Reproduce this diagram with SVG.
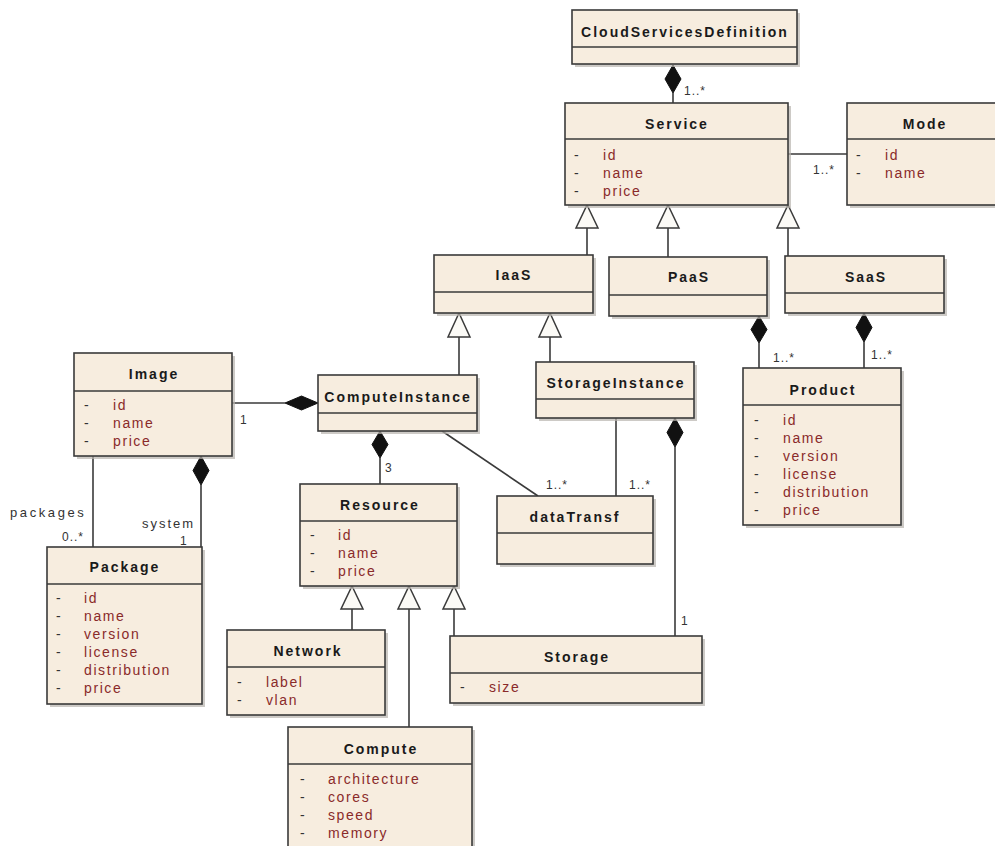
<svg xmlns="http://www.w3.org/2000/svg" width="995" height="846" viewBox="0 0 995 846">
<style>
.sh{fill:#b8b4ae;opacity:0.7}
.bx{fill:#f7eddf;stroke:#3a3a3a;stroke-width:1.6}
.dv{stroke:#3a3a3a;stroke-width:1.4}
.nm{font-family:"Liberation Sans",Arial,sans-serif;font-size:14px;font-weight:bold;fill:#1a1a1a;letter-spacing:2px;text-anchor:middle}
.at{font-family:"Liberation Sans",Arial,sans-serif;font-size:14px;fill:#8a2a2a;letter-spacing:1.6px}
.da{font-family:"Liberation Sans",Arial,sans-serif;font-size:14px;fill:#333}
.ln{stroke:#3a3a3a;stroke-width:1.6;fill:none}
.tri{fill:#fbfaf6;stroke:#3a3a3a;stroke-width:1.5}
.dia{fill:#111;stroke:#111;stroke-width:1}
.lb{font-family:"Liberation Sans",Arial,sans-serif;font-size:12px;fill:#333;letter-spacing:1px}
.rl{font-family:"Liberation Sans",Arial,sans-serif;font-size:13px;fill:#333;letter-spacing:2px}
</style>

<g id="connectors">
  <!-- CSD - Service composition -->
  <line class="ln" x1="673" y1="93" x2="673" y2="103"/>
  <polygon class="dia" points="673,65 681,79 673,93 665,79"/>
  <text class="lb" x="684" y="95">1..*</text>
  <!-- Service - Mode -->
  <line class="ln" x1="788" y1="154" x2="847" y2="154"/>
  <text class="lb" x="813" y="174">1..*</text>
  <!-- Service generalizations -->
  <line class="ln" x1="587" y1="228" x2="587" y2="255"/>
  <polygon class="tri" points="587,205 598,228 576,228"/>
  <line class="ln" x1="668" y1="228" x2="668" y2="257"/>
  <polygon class="tri" points="668,205 679,228 657,228"/>
  <line class="ln" x1="788" y1="228" x2="788" y2="256"/>
  <polygon class="tri" points="788,205 799,228 777,228"/>
  <!-- IaaS generalizations -->
  <line class="ln" x1="459" y1="337" x2="459" y2="375"/>
  <polygon class="tri" points="459,313 470,337 448,337"/>
  <line class="ln" x1="550" y1="337" x2="550" y2="362"/>
  <polygon class="tri" points="550,313 561,337 539,337"/>
  <!-- PaaS - Product -->
  <line class="ln" x1="759" y1="343" x2="759" y2="368"/>
  <polygon class="dia" points="759,316 767,329.5 759,343 751,329.5"/>
  <text class="lb" x="773" y="362">1..*</text>
  <!-- SaaS - Product -->
  <line class="ln" x1="864" y1="342" x2="864" y2="368"/>
  <polygon class="dia" points="864,313 872,327.5 864,342 856,327.5"/>
  <text class="lb" x="871" y="359">1..*</text>
  <!-- Image - ComputeInstance -->
  <line class="ln" x1="232" y1="403" x2="285" y2="403"/>
  <polygon class="dia" points="318,403 301.5,410 285,403 301.5,396"/>
  <text class="lb" x="240" y="424">1</text>
  <!-- ComputeInstance - Resource -->
  <line class="ln" x1="380" y1="458" x2="380" y2="484"/>
  <polygon class="dia" points="380,431 388,444.5 380,458 372,444.5"/>
  <text class="lb" x="385" y="472">3</text>
  <!-- CI - dataTransf -->
  <line class="ln" x1="442" y1="431" x2="538" y2="496"/>
  <text class="lb" x="546" y="489">1..*</text>
  <!-- SI - dataTransf -->
  <line class="ln" x1="616" y1="418" x2="616" y2="496"/>
  <text class="lb" x="629" y="489">1..*</text>
  <!-- SI - Storage -->
  <line class="ln" x1="675" y1="447" x2="675" y2="636"/>
  <polygon class="dia" points="675,418 683,432.5 675,447 667,432.5"/>
  <text class="lb" x="681" y="625">1</text>
  <!-- Image - Package packages -->
  <line class="ln" x1="93" y1="456" x2="93" y2="547"/>
  <text class="rl" x="10" y="517" style="letter-spacing:2.6px">packages</text>
  <text class="lb" x="62" y="541">0..*</text>
  <!-- Image - Package system -->
  <line class="ln" x1="201" y1="485" x2="201" y2="547"/>
  <polygon class="dia" points="201,456 209,470.5 201,485 193,470.5"/>
  <text class="rl" x="142" y="528">system</text>
  <text class="lb" x="180" y="545">1</text>
  <!-- Resource generalizations -->
  <line class="ln" x1="352" y1="609" x2="352" y2="630"/>
  <polygon class="tri" points="352,586 363,609 341,609"/>
  <line class="ln" x1="409" y1="609" x2="409" y2="727"/>
  <polygon class="tri" points="409,586 420,609 398,609"/>
  <line class="ln" x1="454" y1="609" x2="454" y2="636"/>
  <polygon class="tri" points="454,586 465,609 443,609"/>
</g>

<g id="CloudServicesDefinition">
  <rect class="sh" x="575" y="13" width="225" height="54"/>
  <rect class="bx" x="572" y="10" width="225" height="54"/>
  <line class="dv" x1="572" y1="47" x2="797" y2="47"/>
  <text class="nm" x="685" y="37">CloudServicesDefinition</text>
</g>

<g id="Service">
  <rect class="sh" x="568" y="106" width="223" height="102"/>
  <rect class="bx" x="565" y="103" width="223" height="102"/>
  <line class="dv" x1="565" y1="139" x2="788" y2="139"/>
  <text class="nm" x="677" y="129">Service</text>
  <text class="da" x="574" y="160">-</text><text class="at" x="603" y="160">id</text>
  <text class="da" x="574" y="178">-</text><text class="at" x="603" y="178">name</text>
  <text class="da" x="574" y="196">-</text><text class="at" x="603" y="196">price</text>
</g>

<g id="Mode">
  <rect class="sh" x="850" y="106" width="156" height="102"/>
  <rect class="bx" x="847" y="103" width="156" height="102"/>
  <line class="dv" x1="847" y1="139" x2="1003" y2="139"/>
  <text class="nm" x="925" y="129">Mode</text>
  <text class="da" x="856" y="160">-</text><text class="at" x="885" y="160">id</text>
  <text class="da" x="856" y="178">-</text><text class="at" x="885" y="178">name</text>
</g>

<g id="IaaS">
  <rect class="sh" x="437" y="258" width="159" height="58"/>
  <rect class="bx" x="434" y="255" width="159" height="58"/>
  <line class="dv" x1="434" y1="292" x2="593" y2="292"/>
  <text class="nm" x="514" y="280">IaaS</text>
</g>

<g id="PaaS">
  <rect class="sh" x="612" y="260" width="158" height="59"/>
  <rect class="bx" x="609" y="257" width="158" height="59"/>
  <line class="dv" x1="609" y1="295" x2="767" y2="295"/>
  <text class="nm" x="689" y="282">PaaS</text>
</g>

<g id="SaaS">
  <rect class="sh" x="788" y="259" width="159" height="57"/>
  <rect class="bx" x="785" y="256" width="159" height="57"/>
  <line class="dv" x1="785" y1="293" x2="944" y2="293"/>
  <text class="nm" x="866" y="282">SaaS</text>
</g>

<g id="ComputeInstance">
  <rect class="sh" x="321" y="378" width="159" height="56"/>
  <rect class="bx" x="318" y="375" width="159" height="56"/>
  <line class="dv" x1="318" y1="413" x2="477" y2="413"/>
  <text class="nm" x="398" y="402">ComputeInstance</text>
</g>

<g id="StorageInstance">
  <rect class="sh" x="539" y="365" width="158" height="56"/>
  <rect class="bx" x="536" y="362" width="158" height="56"/>
  <line class="dv" x1="536" y1="399" x2="694" y2="399"/>
  <text class="nm" x="616" y="388">StorageInstance</text>
</g>

<g id="Product">
  <rect class="sh" x="746" y="371" width="158" height="157"/>
  <rect class="bx" x="743" y="368" width="158" height="157"/>
  <line class="dv" x1="743" y1="405" x2="901" y2="405"/>
  <text class="nm" x="823" y="395">Product</text>
  <text class="da" x="754" y="425">-</text><text class="at" x="783" y="425">id</text>
  <text class="da" x="754" y="443">-</text><text class="at" x="783" y="443">name</text>
  <text class="da" x="754" y="461">-</text><text class="at" x="783" y="461">version</text>
  <text class="da" x="754" y="479">-</text><text class="at" x="783" y="479">license</text>
  <text class="da" x="754" y="497">-</text><text class="at" x="783" y="497">distribution</text>
  <text class="da" x="754" y="515">-</text><text class="at" x="783" y="515">price</text>
</g>

<g id="Image">
  <rect class="sh" x="77" y="356" width="158" height="103"/>
  <rect class="bx" x="74" y="353" width="158" height="103"/>
  <line class="dv" x1="74" y1="391" x2="232" y2="391"/>
  <text class="nm" x="154" y="379">Image</text>
  <text class="da" x="84" y="410">-</text><text class="at" x="113" y="410">id</text>
  <text class="da" x="84" y="428">-</text><text class="at" x="113" y="428">name</text>
  <text class="da" x="84" y="446">-</text><text class="at" x="113" y="446">price</text>
</g>

<g id="Package">
  <rect class="sh" x="50" y="550" width="155" height="157"/>
  <rect class="bx" x="47" y="547" width="155" height="157"/>
  <line class="dv" x1="47" y1="584" x2="202" y2="584"/>
  <text class="nm" x="125" y="572">Package</text>
  <text class="da" x="56" y="603">-</text><text class="at" x="84" y="603">id</text>
  <text class="da" x="56" y="621">-</text><text class="at" x="84" y="621">name</text>
  <text class="da" x="56" y="639">-</text><text class="at" x="84" y="639">version</text>
  <text class="da" x="56" y="657">-</text><text class="at" x="84" y="657">license</text>
  <text class="da" x="56" y="675">-</text><text class="at" x="84" y="675">distribution</text>
  <text class="da" x="56" y="693">-</text><text class="at" x="84" y="693">price</text>
</g>

<g id="Resource">
  <rect class="sh" x="303" y="487" width="157" height="102"/>
  <rect class="bx" x="300" y="484" width="157" height="102"/>
  <line class="dv" x1="300" y1="521" x2="457" y2="521"/>
  <text class="nm" x="380" y="510">Resource</text>
  <text class="da" x="310" y="540">-</text><text class="at" x="338" y="540">id</text>
  <text class="da" x="310" y="558">-</text><text class="at" x="338" y="558">name</text>
  <text class="da" x="310" y="576">-</text><text class="at" x="338" y="576">price</text>
</g>

<g id="dataTransf">
  <rect class="sh" x="500" y="499" width="156" height="68"/>
  <rect class="bx" x="497" y="496" width="156" height="68"/>
  <line class="dv" x1="497" y1="533" x2="653" y2="533"/>
  <text class="nm" x="575" y="522">dataTransf</text>
</g>

<g id="Network">
  <rect class="sh" x="230" y="633" width="158" height="85"/>
  <rect class="bx" x="227" y="630" width="158" height="85"/>
  <line class="dv" x1="227" y1="667" x2="385" y2="667"/>
  <text class="nm" x="308" y="656">Network</text>
  <text class="da" x="237" y="687">-</text><text class="at" x="266" y="687">label</text>
  <text class="da" x="237" y="705">-</text><text class="at" x="266" y="705">vlan</text>
</g>

<g id="Storage">
  <rect class="sh" x="453" y="639" width="252" height="67"/>
  <rect class="bx" x="450" y="636" width="252" height="67"/>
  <line class="dv" x1="450" y1="673" x2="702" y2="673"/>
  <text class="nm" x="577" y="662">Storage</text>
  <text class="da" x="460" y="692">-</text><text class="at" x="489" y="692">size</text>
</g>

<g id="Compute">
  <rect class="sh" x="291" y="730" width="184" height="130"/>
  <rect class="bx" x="288" y="727" width="184" height="130"/>
  <line class="dv" x1="288" y1="764" x2="472" y2="764"/>
  <text class="nm" x="381" y="754">Compute</text>
  <text class="da" x="300" y="784">-</text><text class="at" x="328" y="784">architecture</text>
  <text class="da" x="300" y="802">-</text><text class="at" x="328" y="802">cores</text>
  <text class="da" x="300" y="820">-</text><text class="at" x="328" y="820">speed</text>
  <text class="da" x="300" y="838">-</text><text class="at" x="328" y="838">memory</text>
</g>
</svg>
